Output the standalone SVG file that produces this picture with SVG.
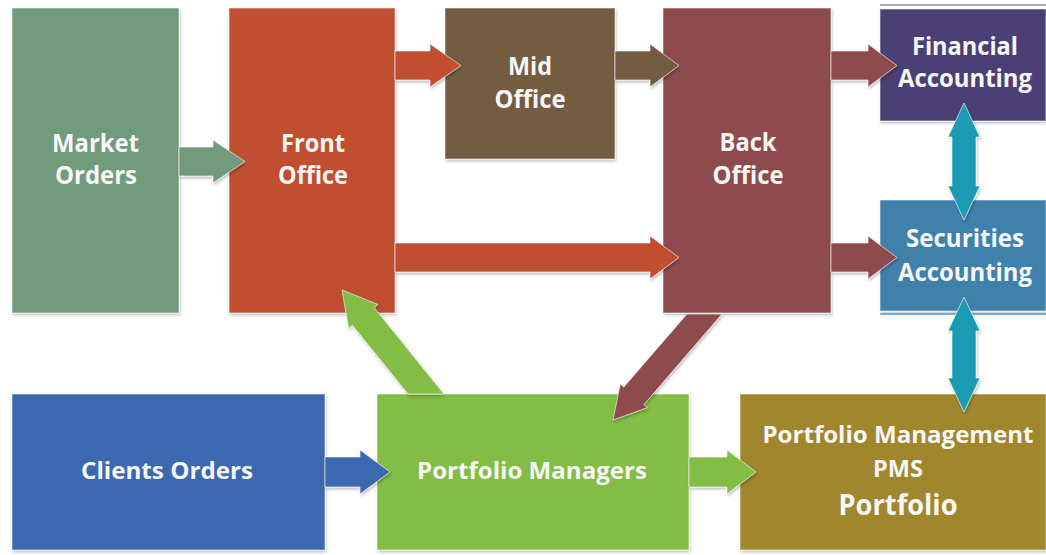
<svg xmlns="http://www.w3.org/2000/svg" width="1046" height="555" viewBox="0 0 1046 555">
<defs>
<filter id="sh" x="-10%" y="-10%" width="120%" height="120%">
<feDropShadow dx="1" dy="2" stdDeviation="1.5" flood-color="#000" flood-opacity="0.25"/>
</filter>
</defs>
<style>
.box{stroke:#ffffff;stroke-opacity:0.55;stroke-width:1;filter:url(#sh)}
.t{font-family:"Open Sans","Liberation Sans",sans-serif;font-weight:700;fill:#f7f7f7;text-anchor:middle}
.t1{font-size:25px}
.t2{font-size:24px}
.t3{font-size:29px}
.ar{stroke:#ffffff;stroke-opacity:0.6;stroke-width:1;filter:url(#sh)}
</style>
<rect width="1046" height="555" fill="#ffffff"/>
<g id="market-orders">
<rect class="box" x="12" y="8" width="167" height="305" fill="#729A7C"/>
<text class="t t1" x="95.5" y="152" textLength="87" lengthAdjust="spacingAndGlyphs">Market</text>
<text class="t t1" x="96" y="184" textLength="82" lengthAdjust="spacingAndGlyphs">Orders</text>
</g>
<g id="front-office">
<rect class="box" x="229" y="8" width="166" height="305" fill="#C05031"/>
<text class="t t1" x="313" y="152" textLength="64" lengthAdjust="spacingAndGlyphs">Front</text>
<text class="t t1" x="313" y="184" textLength="70" lengthAdjust="spacingAndGlyphs">Office</text>
</g>
<g id="mid-office">
<rect class="box" x="445" y="8" width="170" height="151" fill="#735B43"/>
<text class="t t1" x="530" y="75" textLength="44" lengthAdjust="spacingAndGlyphs">Mid</text>
<text class="t t1" x="530" y="108" textLength="71" lengthAdjust="spacingAndGlyphs">Office</text>
</g>
<g id="back-office">
<rect class="box" x="663" y="8" width="168" height="305" fill="#8E4B4D"/>
<text class="t t1" x="748" y="151" textLength="57" lengthAdjust="spacingAndGlyphs">Back</text>
<text class="t t1" x="748" y="184" textLength="71" lengthAdjust="spacingAndGlyphs">Office</text>
</g>
<g id="financial-accounting">
<line x1="880" y1="5" x2="1046" y2="5" stroke="#8E86B4" stroke-width="1.5"/>
<rect class="box" x="880" y="9" width="166" height="112" fill="#4B4075"/>
<text class="t t1" x="965" y="55" textLength="106" lengthAdjust="spacingAndGlyphs">Financial</text>
<text class="t t1" x="965" y="87" textLength="134" lengthAdjust="spacingAndGlyphs">Accounting</text>
</g>
<g id="securities-accounting">
<rect class="box" x="880" y="200" width="166" height="111" fill="#4181AB"/>
<line x1="880" y1="314" x2="1046" y2="314" stroke="#5E97C2" stroke-width="1.5"/>
<text class="t t1" x="965" y="247" textLength="118" lengthAdjust="spacingAndGlyphs">Securities</text>
<text class="t t1" x="965" y="281" textLength="134" lengthAdjust="spacingAndGlyphs">Accounting</text>
</g>
<g id="clients-orders">
<rect class="box" x="12" y="394" width="313" height="156" fill="#3A67AE"/>
<text class="t t2" x="167" y="479" textLength="172" lengthAdjust="spacingAndGlyphs">Clients Orders</text>
</g>
<g id="portfolio-managers">
<rect class="box" x="377" y="394" width="312" height="156" fill="#84BD44"/>
<text class="t t2" x="532" y="479" textLength="230" lengthAdjust="spacingAndGlyphs">Portfolio Managers</text>
</g>
<g id="pms">
<rect class="box" x="740" y="394" width="306" height="156" fill="#A0872F"/>
<text class="t t2" x="898" y="443" textLength="271" lengthAdjust="spacingAndGlyphs">Portfolio Management</text>
<text class="t t2" x="898" y="477" textLength="50" lengthAdjust="spacingAndGlyphs">PMS</text>
<text class="t t3" x="898" y="515" textLength="119" lengthAdjust="spacingAndGlyphs">Portfolio</text>
</g>
<g id="connectors">
<polygon class="ar" fill="#729A7C" points="179,147 213,147 213,140 245,161.5 213,183 213,176 179,176"/>
<polygon class="ar" fill="#C05031" points="395,51 430,51 430,44 461,65.5 430,87 430,80 395,80"/>
<polygon class="ar" fill="#735B43" points="615,51 650,51 650,44 679,65.5 650,87 650,80 615,80"/>
<polygon class="ar" fill="#8E4B4D" points="831,51 868,51 868,44 897,65.5 868,87 868,80 831,80"/>
<polygon class="ar" fill="#C05031" points="395,243 650,243 650,236 679,257.5 650,279 650,272 395,272"/>
<polygon class="ar" fill="#8E4B4D" points="831,243 868,243 868,236 897,257.5 868,279 868,272 831,272"/>
<polygon class="ar" fill="#3A67AE" points="325,457 360,457 360,450 390,472 360,494 360,487 325,487"/>
<polygon class="ar" fill="#84BD44" points="689,457 727,457 727,450 756,472 727,494 727,487 689,487"/>
<polygon class="ar" fill="#1C9CB2" points="964,103 980,137 976,137 976,186 980,186 964,220 948,186 952,186 952,137 948,137"/>
<polygon class="ar" fill="#1C9CB2" points="964,297 980,331 976,331 976,378 980,378 964,412 948,378 952,378 952,331 948,331"/>
<polygon class="ar" fill="#84BD44" points="342,290 378,304.5 374.2,307.6 444,394 408,394 352.4,325.2 348.6,328.3"/>
<polygon class="ar" fill="#8E4B4D" points="613,420 620.3,384 623.8,387.1 687,314 722,314 644,404.5 647.5,407.6"/>
</g>
</svg>
